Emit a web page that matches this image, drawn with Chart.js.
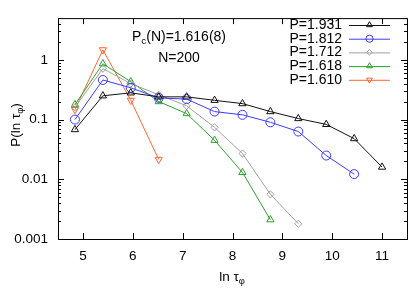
<!DOCTYPE html>
<html>
<head>
<meta charset="utf-8">
<script src="https://cdn.jsdelivr.net/npm/chart.js@4/dist/chart.umd.min.js"></script>
<style>
  html, body { margin: 0; padding: 0; background: #fff; }
  #wrap { width: 415px; height: 291px; }
</style>
</head>
<body>
<div id="wrap"><canvas id="chart-tau" width="415" height="291"></canvas></div>
<script>
// x positions (ln tau_phi) of the histogram bins
const lnTau = [4.84, 5.4, 5.96, 6.52, 7.08, 7.64, 8.2, 8.76, 9.32, 9.88, 10.44, 11.0];

// P(ln tau_phi) for each P value
const p1931 = [0.068, 0.25, 0.28, 0.24, 0.24, 0.21, 0.185, 0.136, 0.104, 0.083, 0.048, 0.016];
const p1812 = [0.1, 0.46, 0.34, 0.23, 0.22, 0.136, 0.12, 0.09, 0.063, 0.025, 0.0122];
const p1712 = [0.16, 0.71, 0.40, 0.26, 0.17, 0.074, 0.027, 0.0056, 0.0018];
const p1618 = [0.178, 0.86, 0.43, 0.2, 0.126, 0.045, 0.013, 0.0021];
const p1610 = [0.147, 1.47, 0.21, 0.0215];

const seriesLabels = ['P=1.931', 'P=1.812', 'P=1.712', 'P=1.618', 'P=1.610'];
const xTicks = [5, 6, 7, 8, 9, 10, 11];
const yTicks = [0.001, 0.01, 0.1, 1];

const FONT = '"Liberation Sans", Arial, sans-serif';

/* Series styles */
const styles = [
    { color: '#111111', pointStyle: 'triangle', rotation: 0, radius: 4.2 },
    { color: '#3a3aff', pointStyle: 'circle', rotation: 0, radius: 4.5 },
    { color: '#a0a0a0', pointStyle: 'rectRot', rotation: 0, radius: 3.6 },
    { color: '#2ca02c', pointStyle: 'triangle', rotation: 0, radius: 4.2 },
    { color: '#ff6633', pointStyle: 'triangle', rotation: 180, radius: 4.2 },
];

const toPoints = vals => vals.map((v, i) => ({ x: lnTau[i], y: v }));
const allSeries = [p1931, p1812, p1712, p1618, p1610];

const datasets = allSeries.map((vals, i) => ({
    label: seriesLabels[i],
    data: toPoints(vals),
    borderColor: styles[i].color,
    backgroundColor: 'rgba(0,0,0,0)',
    borderWidth: 1,
    pointStyle: styles[i].pointStyle,
    rotation: styles[i].rotation,
    pointRadius: styles[i].radius,
    pointBorderWidth: 1,
    pointBackgroundColor: 'rgba(0,0,0,0)',
    tension: 0,
}));

// draw text with a subscript, starting at x, returns end x
function subText(ctx, parts, x, y, size) {
    for (const p of parts) {
        if (p.sub) {
            ctx.font = (size * 0.7) + 'px ' + FONT;
            ctx.fillText(p.t, x, y + size * 0.3);
            x += ctx.measureText(p.t).width;
        } else {
            ctx.font = size + 'px ' + FONT;
            ctx.fillText(p.t, x, y);
            x += ctx.measureText(p.t).width;
        }
    }
    return x;
}
function subWidth(ctx, parts, size) {
    let w = 0;
    for (const p of parts) {
        ctx.font = (p.sub ? size * 0.7 : size) + 'px ' + FONT;
        w += ctx.measureText(p.t).width;
    }
    return w;
}

// frame with inward ticks, like gnuplot
const framePlugin = {
    id: 'frame',
    afterDraw(chart) {
        const { ctx, chartArea: a, scales } = chart;
        ctx.save();
        ctx.strokeStyle = '#000';
        ctx.lineWidth = 1;
        ctx.strokeRect(a.left + 0.5, a.top + 0.5, a.right - a.left, a.bottom - a.top);
        ctx.beginPath();
        xTicks.forEach(t => {
            const px = Math.round(scales.x.getPixelForValue(t)) + 0.5;
            ctx.moveTo(px, a.bottom); ctx.lineTo(px, a.bottom - 6);
            ctx.moveTo(px, a.top); ctx.lineTo(px, a.top + 6);
        });
        for (let d = -3; d <= 0; d++) {
            for (let m = 1; m <= 9; m++) {
                const v = m * Math.pow(10, d);
                if (v > scales.y.max) continue;
                const py = Math.round(scales.y.getPixelForValue(v)) + 0.5;
                const len = m === 1 ? 6 : 3;
                ctx.moveTo(a.left, py); ctx.lineTo(a.left + len, py);
                ctx.moveTo(a.right, py); ctx.lineTo(a.right - len, py);
            }
        }
        ctx.stroke();
        ctx.restore();
    }
};

// legend, annotation and axis titles
const textPlugin = {
    id: 'texts',
    afterDraw(chart) {
        const { ctx } = chart;
        ctx.save();
        ctx.fillStyle = '#000';
        ctx.textBaseline = 'middle';

        // legend
        const rows = [25, 38.7, 52.4, 66.1, 79.8];
        chart.data.datasets.forEach((ds, i) => {
            const y = rows[i];
            ctx.font = '14px ' + FONT;
            ctx.textAlign = 'right';
            ctx.fillStyle = '#000';
            ctx.fillText(ds.label, 342, y);
            ctx.strokeStyle = ds.borderColor;
            ctx.lineWidth = 1;
            ctx.beginPath();
            ctx.moveTo(349, y + 0.5); ctx.lineTo(390, y + 0.5);
            ctx.stroke();
            if (Chart.helpers && Chart.helpers.drawPoint) {
                ctx.fillStyle = 'rgba(0,0,0,0)';
                Chart.helpers.drawPoint(ctx, {
                    pointStyle: ds.pointStyle, rotation: ds.rotation,
                    radius: ds.pointRadius * 0.8, borderWidth: 1
                }, 369.5, y);
            }
        });

        // annotation
        ctx.fillStyle = '#000';
        ctx.textAlign = 'left';
        const ann = [{ t: 'P' }, { t: 'c', sub: true }, { t: '(N)=1.616(8)' }];
        const aw = subWidth(ctx, ann, 14);
        subText(ctx, ann, 179 - aw / 2, 37, 14);
        ctx.font = '14px ' + FONT;
        ctx.textAlign = 'center';
        ctx.fillText('N=200', 179, 58);

        // x axis title
        ctx.textAlign = 'left';
        const xt = [{ t: 'ln τ' }, { t: 'φ', sub: true }];
        const xw = subWidth(ctx, xt, 13.5);
        subText(ctx, xt, 232 - xw / 2, 277, 13.5);

        // y axis title
        ctx.translate(16, 125);
        ctx.rotate(-Math.PI / 2);
        const yt = [{ t: 'P(ln τ' }, { t: 'φ', sub: true }, { t: ')' }];
        const yw = subWidth(ctx, yt, 13.5);
        subText(ctx, yt, -yw / 2, 0, 13.5);
        ctx.restore();
    }
};

new Chart(document.getElementById('chart-tau'), {
    type: 'line',
    data: { datasets },
    options: {
        responsive: false,
        devicePixelRatio: 1,
        animation: false,
        layout: { padding: { top: 14, right: 8, left: 0, bottom: 0 } },
        plugins: { legend: { display: false }, tooltip: { enabled: false } },
        scales: {
            x: {
                type: 'linear',
                min: 4.5,
                max: 11.5,
                afterBuildTicks: s => { s.ticks = xTicks.map(v => ({ value: v })); },
                afterFit: s => { s.height = 52; },
                grid: { display: false, drawTicks: false },
                border: { display: false },
                ticks: {
                    color: '#000',
                    padding: 9,
                    maxRotation: 0,
                    font: { family: FONT, size: 13.5 },
                    callback: v => String(v),
                },
            },
            y: {
                type: 'logarithmic',
                min: 0.001,
                max: 5,
                afterBuildTicks: s => { s.ticks = yTicks.map(v => ({ value: v })); },
                afterFit: s => { s.width = 58; },
                grid: { display: false, drawTicks: false },
                border: { display: false },
                ticks: {
                    color: '#000',
                    padding: 10,
                    font: { family: FONT, size: 13.5 },
                    callback: v => String(v),
                },
            },
        },
    },
    plugins: [framePlugin, textPlugin],
});
</script>
</body>
</html>
